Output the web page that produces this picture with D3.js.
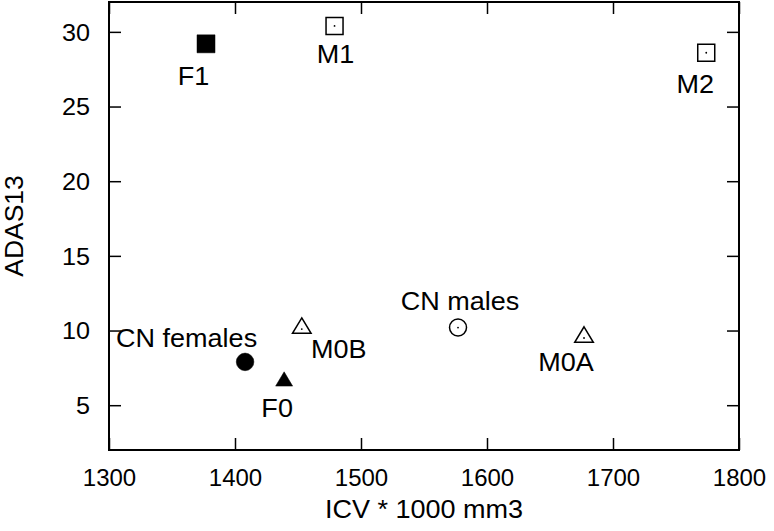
<!DOCTYPE html>
<html><head><meta charset="utf-8">
<script src="https://cdn.jsdelivr.net/npm/d3@7"></script>
<style>body{margin:0;background:#fff}svg{display:block}text{font-family:"Liberation Sans",Arial,sans-serif;fill:#000}</style>
</head><body>
<svg id="c" width="774" height="531"></svg>
<script>
const groups = ["F1","M1","M2","CN females","F0","M0B","CN males","M0A"];
const icv    = [1377, 1479, 1774, 1408, 1439, 1453, 1577, 1677];
const adas13 = [29.2, 30.4, 28.6, 7.9, 6.6, 10.1, 10.2, 9.5];
const shapes = ["square","square","square","circle","triangle","triangle","circle","triangle"];
const filled = [true,false,false,true,true,false,false,false];
const xTicks = [1300,1400,1500,1600,1700,1800];
const yTicks = [5,10,15,20,25,30];
// label offsets (px) relative to marker
const labelDx = [-12.5, 1, -11, -58.5, -7, 37, 2, -18];
const labelDy = [41.5, 37, 40, -15.3, 35.5, 29, -18, 33.4];

const W=774,H=531, m={l:109,r:35,t:2,b:81};
const svg=d3.select("#c");
const x=d3.scaleLinear().domain([1300,1800]).range([m.l,W-m.r]);
const y=d3.scaleLinear().domain([2,32]).range([H-m.b,m.t]);
const FS=24, LFS=25.5, SX=1.06;
const tickLen=12;

const g=svg.append("g");
const axB=d3.axisBottom(x).tickValues(xTicks).tickSize(-tickLen).tickFormat(d3.format("d"));
const gb=g.append("g").attr("transform",`translate(0,${H-m.b})`).call(axB);
const axT=d3.axisTop(x).tickValues(xTicks).tickSize(-tickLen).tickFormat("");
const gt=g.append("g").attr("transform",`translate(0,${m.t})`).call(axT);
const axL=d3.axisLeft(y).tickValues(yTicks).tickSize(-tickLen).tickPadding(tickLen+7);
const gl=g.append("g").attr("transform",`translate(${m.l},0)`).call(axL);
const axR=d3.axisRight(y).tickValues(yTicks).tickSize(-tickLen).tickFormat("");
const gr=g.append("g").attr("transform",`translate(${W-m.r},0)`).call(axR);
[gb,gt,gl,gr].forEach(a=>{a.select(".domain").remove();a.selectAll("line").attr("stroke","#000").attr("stroke-width",1.5);
  a.selectAll("text").style("font-size",FS+"px").attr("fill","#000").style("font-family","Liberation Sans, Arial, sans-serif");});
gb.selectAll("text").attr("dy","0.71em").attr("y",19);
gl.selectAll("text").attr("dy","0.35em").attr("transform",`scale(1.05,1)`).attr("x",-(tickLen+7)/1.05);

g.append("rect").attr("x",m.l).attr("y",m.t).attr("width",W-m.l-m.r).attr("height",H-m.t-m.b)
 .attr("fill","none").attr("stroke","#000").attr("stroke-width",2);

function shapePath(s,f){
  if(s==="square"){const h=f?9:8.5;return `M${-h},${-h}H${h}V${h}H${-h}Z`;}
  if(s==="circle"){const r=f?8.8:8.5;return `M${r},0A${r},${r} 0 1,1 ${-r},0A${r},${r} 0 1,1 ${r},0Z`;}
  const hw=f?8.5:9.3, top=f?-9.5:-11.2, bot=f?4.8:4.3;
  return `M0,${top}L${hw},${bot}L${-hw},${bot}Z`;
}
const pts=g.selectAll("g.pt").data(groups).join("g").attr("class","pt")
  .attr("transform",(d,i)=>`translate(${x(icv[i])},${y(adas13[i])})`);
pts.append("path").attr("d",(d,i)=>shapePath(shapes[i],filled[i]))
  .attr("fill",(d,i)=>filled[i]?"#000":"none").attr("stroke","#000").attr("stroke-width",(d,i)=>filled[i]?0.5:1.5);
pts.filter((d,i)=>!filled[i]).append("circle").attr("r",0.9).attr("fill","#000");

g.selectAll("text.lbl").data(groups).join("text").attr("class","lbl")
  .attr("transform",(d,i)=>`translate(${x(icv[i])+labelDx[i]},${y(adas13[i])+labelDy[i]}) scale(${SX},1)`)
  .attr("text-anchor","middle").style("font-size",LFS+"px").text(d=>d);

svg.append("text").attr("transform",`translate(${(m.l+W-m.r)/2},518) scale(${SX},1)`).attr("text-anchor","middle").style("font-size",LFS+"px").text("ICV * 1000 mm3");
svg.append("text").attr("transform",`translate(23,${(m.t+H-m.b)/2}) rotate(-90) scale(${SX},1)`).attr("text-anchor","middle").style("font-size","25px").text("ADAS13");
</script></body></html>
